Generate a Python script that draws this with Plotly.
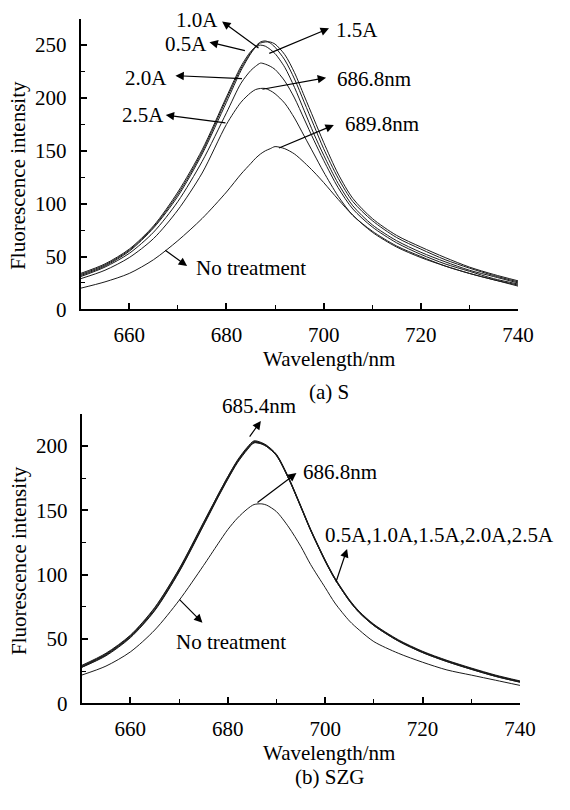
import plotly.graph_objects as go

# ---------------- data: (a) S ----------------
wl_a = [650, 655, 660, 665, 670, 675, 680, 683, 685, 686, 687, 688, 689, 690,
        692, 694, 696, 698, 700, 703, 706, 710, 715, 720, 725, 730, 735, 740]
s_05 = [34, 43, 57, 79, 111, 151, 201, 230, 244, 248, 250, 249, 246, 242,
        229, 210, 188, 166, 146, 119, 98, 80, 65, 54, 45, 37, 31, 25]
s_10 = [33, 42, 56, 78, 109, 149, 199, 228, 243, 249, 253, 254, 252, 248,
        236, 218, 196, 174, 152, 124, 102, 84, 68, 57, 47, 39, 32, 26]
s_15 = [32, 41, 55, 77, 107, 147, 196, 226, 242, 248, 252, 253, 253, 251,
        241, 224, 202, 180, 158, 128, 105, 86, 70, 59, 49, 40, 33, 27]
s_20 = [31, 40, 53, 73, 102, 140, 186, 214, 226, 230, 233, 232, 230, 227,
        216, 200, 180, 160, 141, 115, 95, 78, 63, 52, 43, 36, 29, 24]
s_25 = [29, 37, 49, 67, 94, 129, 175, 196, 205, 208, 209, 209, 207, 204,
        195, 181, 164, 147, 130, 107, 89, 74, 60, 50, 41, 34, 28, 23]
s_nt = [20, 26, 34, 47, 65, 86, 111, 128, 138, 143, 147, 150, 152, 154,
        152, 147, 139, 130, 120, 104, 89, 73, 59, 49, 41, 34, 28, 22]

# ---------------- data: (b) SZG ----------------
wl_b = [650, 655, 660, 665, 670, 675, 678, 680, 682, 684, 685.4, 687, 688, 690,
        692.5, 695, 697, 700, 702, 705, 707, 710, 715, 720, 725, 730, 735, 740]
b_05 = [28.5, 38, 52, 73, 103, 139, 161, 175, 188, 198, 203, 202, 200, 193,
        175, 153, 135, 111, 97, 80, 71, 61, 49, 40, 33, 27, 21.5, 17]
b_10 = [29, 38.5, 52.5, 74, 104, 140, 162, 176, 189, 199, 204, 202.5, 200.5, 193.5,
        175.5, 153.5, 135.5, 111.5, 97.5, 80.5, 71.5, 61.5, 49.5, 40.5, 33.5, 27.5, 22, 17.5]
b_15 = [28, 37.5, 51.5, 72.5, 102.5, 138.5, 160.5, 174.5, 187.5, 197.5, 202.5, 201.5, 199.5, 192.5,
        174.5, 152.5, 134.5, 110.5, 96.5, 79.5, 70.5, 60.5, 48.5, 39.5, 32.5, 26.5, 21, 16.5]
b_20 = [29.5, 39, 53, 74.5, 104.5, 140.5, 162, 176, 188.5, 198.5, 203.5, 202, 200, 193,
        175, 153, 135, 111, 97, 80, 71, 61, 49, 40, 33, 27, 21.5, 17]
b_25 = [28, 37, 51, 72, 102, 138, 160, 174, 187, 197, 202.5, 201.5, 199.5, 192.5,
        174.5, 152.5, 134.5, 110.5, 96.5, 79.5, 70.5, 60.5, 48.5, 39.5, 32.5, 26.5, 21, 16.5]
b_nt = [22, 29, 40, 57, 80, 107, 124, 135, 144, 151, 154.5, 155, 154, 149,
        137, 122, 108, 90, 78, 64, 57, 48, 39, 32, 26, 22, 18, 14]

x_ticks = [660, 680, 700, 720, 740]

FONT = "Liberation Serif"
LINE = "#1a1a1a"

fig = go.Figure()

for ys in [s_05, s_10, s_15, s_20, s_25, s_nt]:
    fig.add_trace(go.Scatter(x=wl_a, y=ys, mode="lines", xaxis="x", yaxis="y",
                             line=dict(color=LINE, width=1, shape="spline", smoothing=0.8),
                             showlegend=False, hoverinfo="skip"))
for ys in [b_05, b_10, b_15, b_20, b_25, b_nt]:
    fig.add_trace(go.Scatter(x=wl_b, y=ys, mode="lines", xaxis="x2", yaxis="y2",
                             line=dict(color=LINE, width=1, shape="spline", smoothing=0.8),
                             showlegend=False, hoverinfo="skip"))

def xax(domain, anchor):
    return dict(domain=domain, anchor=anchor, range=[650, 740], tickvals=x_ticks,
                showline=True, linecolor="black", linewidth=2, mirror=False,
                ticks="inside", ticklen=6, tickwidth=1.5, tickcolor="black",
                minor=dict(ticks="inside", ticklen=4, tickwidth=1.2, tickcolor="black", dtick=10, tick0=650),
                showgrid=False, zeroline=False, ticklabelstandoff=5,
                tickfont=dict(family=FONT, size=21, color="black"))

def yax(domain, anchor, rng):
    return dict(domain=domain, anchor=anchor, range=rng, dtick=50, tick0=0,
                showline=True, linecolor="black", linewidth=2, mirror=False,
                ticks="inside", ticklen=6, tickwidth=1.5, tickcolor="black",
                minor=dict(ticks="inside", ticklen=4, tickwidth=1.2, tickcolor="black", dtick=25, tick0=0),
                showgrid=False, zeroline=False, ticklabelstandoff=8,
                tickfont=dict(family=FONT, size=21, color="black"))

W, H = 570, 810
fig.update_layout(
    width=W, height=H, margin=dict(l=0, r=0, t=0, b=0),
    paper_bgcolor="white", plot_bgcolor="white", showlegend=False,
    font=dict(family=FONT, color="black"),
    xaxis=xax([83 / W, 533 / W], "y"),
    yaxis=yax([1 - 314 / H, 1 - 19 / H], "x", [0, 275]),
    xaxis2=xax([84 / W, 535 / W], "y2"),
    yaxis2=yax([1 - 714 / H, 1 - 420 / H], "x2", [0, 225]),
)

ann = []
def label(text, x, y, xr, yr):
    ann.append(dict(text=text, x=x, y=y, xref=xr, yref=yr, showarrow=False,
                    xanchor="center", yanchor="middle",
                    font=dict(family=FONT, size=21, color="black")))

def arrow(hx, hy, tx, ty, xr, yr):
    ann.append(dict(text=" ", x=hx, y=hy, ax=tx, ay=ty, xref=xr, yref=yr,
                    axref=xr, ayref=yr, showarrow=True, arrowhead=2, arrowsize=1.4,
                    arrowwidth=1.2, arrowcolor="black", standoff=0, startstandoff=0,
                    font=dict(size=1)))

# (a) labels
label("1.0A", 673.9, 274.0, "x", "y")
label("0.5A", 671.7, 251.5, "x", "y")
label("1.5A", 706.9, 264.5, "x", "y")
label("2.0A", 663.5, 219.0, "x", "y")
label("2.5A", 662.9, 183.5, "x", "y")
label("686.8nm", 710.3, 217.5, "x", "y")
label("689.8nm", 712.1, 175.0, "x", "y")
label("No treatment", 685.1, 39.0, "x", "y")
arrow(679.1, 272.4, 686.9, 246.3, "x", "y")
arrow(676.5, 252.8, 684.1, 244.4, "x", "y")
arrow(701.1, 265.9, 688.5, 241.6, "x", "y")
arrow(669.5, 221.1, 683.5, 218.3, "x", "y")
arrow(667.5, 183.8, 680.1, 176.3, "x", "y")
arrow(700.5, 219.2, 687.1, 208.0, "x", "y")
arrow(702.1, 174.4, 690.5, 152.1, "x", "y")
arrow(671.9, 41.0, 667.1, 56.9, "x", "y")

# (b) labels
label("685.4nm", 266 / W, 1 - 412 / H, "paper", "paper")
label("686.8nm", 703.1, 180.0, "x2", "y2")
label("0.5A,1.0A,1.5A,2.0A,2.5A", 723.4, 130.5, "x2", "y2")
label("No treatment", 680.6, 48.0, "x2", "y2")
arrow(686.8, 219.4, 684.2, 205.7, "x2", "y2")
arrow(694.1, 178.9, 685.8, 155.2, "x2", "y2")
arrow(704.5, 120.0, 702.1, 93.0, "x2", "y2")
arrow(674.8, 62.7, 669.8, 81.8, "x2", "y2")

# titles / captions
label("Wavelength/nm", 339 / W, 1 - 364 / H, "paper", "paper")
label("(a) S", 339 / W, 1 - 398 / H, "paper", "paper")
label("Wavelength/nm", 339 / W, 1 - 764 / H, "paper", "paper")
label("(b) SZG", 339 / W, 1 - 789 / H, "paper", "paper")
for yc in [1 - 178 / H, 1 - 569 / H]:
    ann.append(dict(text="Fluorescence intensity", x=19 / W, y=yc, xref="paper", yref="paper",
                    showarrow=False, textangle=-90, xanchor="center", yanchor="middle",
                    font=dict(family=FONT, size=21, color="black")))

fig.update_layout(annotations=ann)
fig.write_html("out.html")
